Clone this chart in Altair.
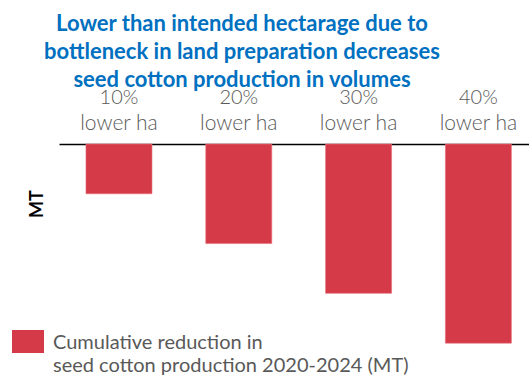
import altair as alt
import pandas as pd

# ---- data ----
categories = ["10% lower ha", "20% lower ha", "30% lower ha", "40% lower ha"]
pct_labels = ["10%", "20%", "30%", "40%"]
sub_labels = ["lower ha", "lower ha", "lower ha", "lower ha"]
reduction = [-1.0, -2.0, -3.0, -4.0]  # relative cumulative reduction (MT, no scale shown)

title_lines = [
    "Lower than intended hectarage due to",
    "bottleneck in land preparation decreases",
    "seed cotton production in volumes",
]
legend_lines = ["Cumulative reduction in", "seed cotton production 2020-2024 (MT)"]

RED = "#D43A47"
BLUE = "#0070C0"
GREY = "#595959"
FONT = "Lato"

df = pd.DataFrame({"cat": categories, "pct": pct_labels, "sub": sub_labels, "val": reduction})

xscale = alt.Scale(domain=categories, paddingInner=0.449, paddingOuter=0.186, align=0.605)
yscale = alt.Scale(domain=[-4.7, 0], nice=False, zero=False)

bars = alt.Chart(df).mark_bar(color=RED, stroke="#E8707A", strokeWidth=0.6).encode(
    x=alt.X("cat:N", scale=xscale,
            axis=alt.Axis(orient="top", labels=False, ticks=False, title=None,
                          domainColor="#000000", domainWidth=1.5, grid=False)),
    y=alt.Y("val:Q", scale=yscale,
            axis=alt.Axis(labels=False, ticks=False, domain=False, grid=False,
                          title="MT", titleFontSize=18, titleFontWeight="bold",
                          titleColor="#000000", titleFont=FONT, titleAngle=270,
                          titleX=-21.5, titleY=59.5, titleAlign="center", titleBaseline="middle")),
    y2=alt.datum(0),
)

pct_text = alt.Chart(df).mark_text(font=FONT, fontSize=20, fontWeight=300, color=GREY,
                                   baseline="alphabetic").encode(
    x=alt.X("cat:N", scale=xscale), y=alt.value(-40), text="pct:N")
sub_text = alt.Chart(df).mark_text(font=FONT, fontSize=21, fontWeight=300, color=GREY,
                                   baseline="alphabetic").encode(
    x=alt.X("cat:N", scale=xscale), y=alt.value(-14), text="sub:N")

one = pd.DataFrame({"k": [0]})
title = alt.Chart(one).mark_text(font=FONT, fontSize=22, fontWeight="bold", color=BLUE,
                                 baseline="alphabetic", align="center", lineHeight=28).encode(
    x=alt.value(183), y=alt.value(-113), text=alt.value(title_lines))

swatch = alt.Chart(one).mark_rect(color=RED).encode(
    x=alt.value(-47), x2=alt.value(-15), y=alt.value(186), y2=alt.value(209))
legend_text = alt.Chart(one).mark_text(font=FONT, fontSize=20, color=GREY, align="left",
                                       baseline="alphabetic", lineHeight=23).encode(
    x=alt.value(-6), y=alt.value(205), text=alt.value(legend_lines))

chart = alt.layer(bars, pct_text, sub_text, title, swatch, legend_text).properties(
    width=470, height=234,
    autosize=alt.AutoSizeParams(type="none"),
    padding={"left": 59, "top": 144, "right": 0, "bottom": 0},
).configure_view(stroke=None)

chart.save("out.html", embed_options={"renderer": "svg", "actions": False})
